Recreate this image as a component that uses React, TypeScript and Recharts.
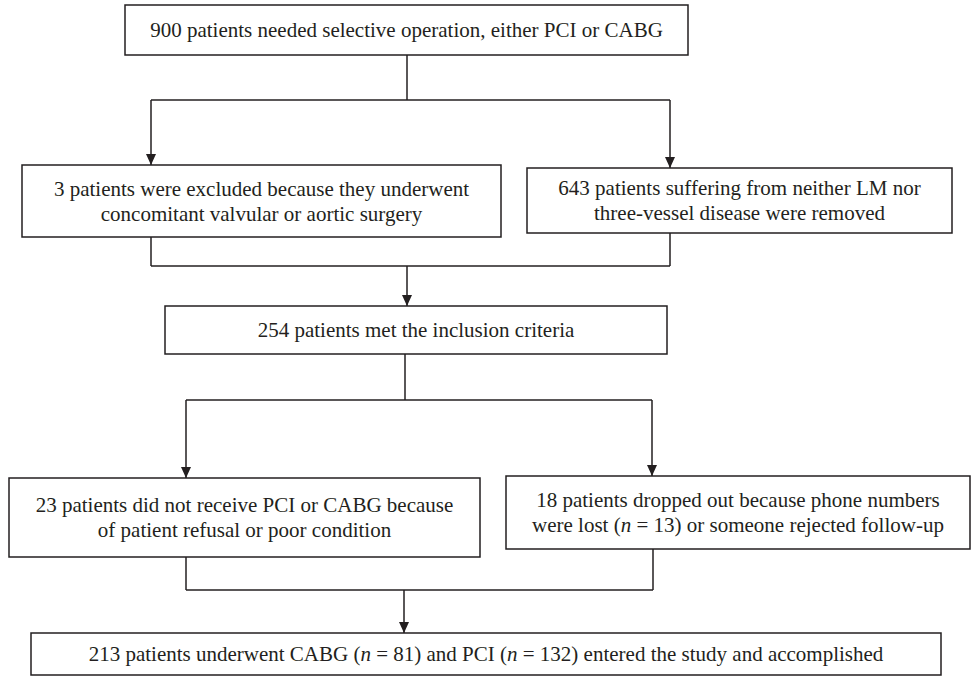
import React from "react";
import {
  ComposedChart,
  XAxis,
  YAxis,
  Scatter,
  ReferenceArea,
  ReferenceLine
} from "recharts";

if (typeof document !== "undefined") document.body.style.margin = "0";

// box texts, one entry per line; *n* marks italic
const BOX_TEXT: string[][] = [
  ["900 patients needed selective operation, either PCI or CABG"],
  ["3 patients were excluded because they underwent", "concomitant valvular or aortic surgery"],
  ["643 patients suffering from neither LM nor", "three-vessel disease were removed"],
  ["254 patients met the inclusion criteria"],
  ["23 patients did not receive PCI or CABG because", "of patient refusal or poor condition"],
  ["18 patients dropped out because phone numbers", "were lost (*n* = 13) or someone rejected follow-up"],
  ["213 patients underwent CABG (*n* = 81) and PCI (*n* = 132) entered the study and accomplished"]
];
const BOX_LEFT = [125, 22, 527, 165, 9, 506, 31];
const BOX_RIGHT = [688, 501, 952, 667, 480, 970, 941];
const BOX_TOP = [5, 165, 168, 306, 478, 476, 633];
const BOX_BOTTOM = [55, 237, 233, 354, 557, 549, 675];

// connector segments [x1, y1, x2, y2]
const LINKS: number[][] = [
  [407, 55, 407, 100], [151, 100, 670, 100], [151, 100, 151, 165], [670, 100, 670, 168],
  [151, 237, 151, 266], [670, 233, 670, 266], [151, 266, 670, 266], [407, 266, 407, 306],
  [405, 354, 405, 400], [186, 400, 652, 400], [186, 400, 186, 478], [652, 400, 652, 476],
  [186, 557, 186, 590], [653, 549, 653, 590], [186, 590, 653, 590], [404, 590, 404, 633]
];
const ARROW_X = [151, 670, 407, 186, 652, 404];
const ARROW_Y = [165, 168, 306, 478, 476, 633];

const INK = "#231f20";
const FONT = "'Liberation Serif', 'DejaVu Serif', serif";

const arrows = ARROW_X.map((x, i) => ({ x, y: ARROW_Y[i] }));

function Arrow(props: any) {
  const { cx, cy } = props;
  return <polygon points={`${cx - 5},${cy - 11} ${cx + 5},${cy - 11} ${cx},${cy}`} fill={INK} />;
}

function renderLine(line: string) {
  return line.split("*").map((part, k) => (
    <tspan key={k} fontStyle={k % 2 === 1 ? "italic" : "normal"}>{part}</tspan>
  ));
}

function boxLabel(i: number) {
  return (props: any) => {
    const { x, y, width, height } = props.viewBox;
    const lines = BOX_TEXT[i];
    const lh = 25;
    const cy = y + height / 2 - ((lines.length - 1) * lh) / 2;
    return (
      <text textAnchor="middle" style={{ fontFamily: FONT, fontSize: 21 }} fill={INK}>
        {lines.map((l, j) => (
          <tspan key={j} x={x + width / 2} y={cy + j * lh} dy="0.35em">
            {renderLine(l)}
          </tspan>
        ))}
      </text>
    );
  };
}

export default function App() {
  return (
    <div style={{ width: 974, height: 676, background: "#fff" }}>
      <ComposedChart width={974} height={676} data={arrows} margin={{ top: 0, right: 0, bottom: 0, left: 0 }}>
        <XAxis type="number" dataKey="x" domain={[0, 974]} allowDataOverflow hide />
        <YAxis type="number" dataKey="y" domain={[0, 676]} allowDataOverflow reversed hide />
        {LINKS.map((s, i) => (
          <ReferenceLine
            key={`l${i}`}
            segment={[{ x: s[0], y: s[1] }, { x: s[2], y: s[3] }]}
            stroke={INK}
            strokeWidth={1.5}
            ifOverflow="visible"
          />
        ))}
        {BOX_TEXT.map((_, i) => (
          <ReferenceArea
            key={`b${i}`}
            x1={BOX_LEFT[i]}
            x2={BOX_RIGHT[i]}
            y1={BOX_TOP[i]}
            y2={BOX_BOTTOM[i]}
            fill="#fff"
            fillOpacity={1}
            stroke={INK}
            strokeWidth={1.5}
            ifOverflow="visible"
            label={boxLabel(i)}
          />
        ))}
        <Scatter data={arrows} dataKey="y" shape={<Arrow />} isAnimationActive={false} />
      </ComposedChart>
    </div>
  );
}
